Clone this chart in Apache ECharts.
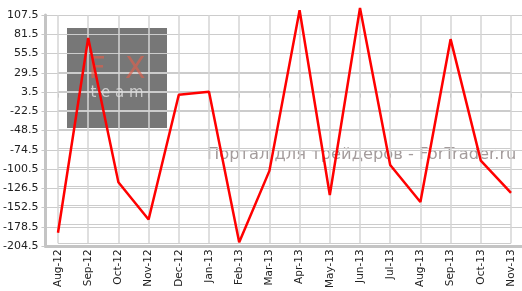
<!DOCTYPE html>
<html><head><meta charset="utf-8">
<script src="https://cdn.jsdelivr.net/npm/echarts@6/dist/echarts.min.js"></script>
<style>html,body{margin:0;padding:0;background:#fff}#c{width:522px;height:291px}</style>
</head><body><div id="c"></div>
<script>
var categories = ['Aug-12','Sep-12','Oct-12','Nov-12','Dec-12','Jan-13','Feb-13','Mar-13','Apr-13','May-13','Jun-13','Jul-13','Aug-13','Sep-13','Oct-13','Nov-13'];
var values = [-190, 76, -121, -172, -1.5, 2.5, -203, -105.5, 114, -138.5, 117, -97.5, -148, 74.5, -91.5, -135.5];
var tickLabels = ['-204.5','-178.5','-152.5','-126.5','-100.5','-74.5','-48.5','-22.5','3.5','29.5','55.5','81.5','107.5'];
var yMin = -204.5, yMax = 107.5;

var chart = echarts.init(document.getElementById('c'), null, {renderer:'canvas'});
var font = 'DejaVu Sans';
chart.setOption({
  animation: false,
  backgroundColor: '#ffffff',
  grid: [
    {left: 58, right: 11, top: 15, bottom: 45},
    {left: 43, right: 0, top: 15, bottom: 45}
  ],
  xAxis: [
    {type:'category', gridIndex:0, z:3, data: categories, boundaryGap:false,
     axisLine:{show:false},
     axisTick:{show:true, length:4, lineStyle:{color:'#c8c8c8'}},
     axisLabel:{rotate:90, fontFamily:font, fontSize:10.5, color:'#222', margin:6, interval:0},
     splitLine:{show:true, lineStyle:{color:'#d4d4d4', width:1.5}}},
    {type:'category', gridIndex:1, z:3, data:[''], boundaryGap:false,
     axisLine:{show:true, lineStyle:{color:'#c4c4c4', width:3}},
     axisTick:{show:false}, axisLabel:{show:false}, splitLine:{show:false}}
  ],
  yAxis: [
    {type:'value', gridIndex:0, min:yMin, max:yMax, show:false, splitLine:{show:false}},
    {type:'category', gridIndex:1, z:3, data: tickLabels, boundaryGap:false,
     axisLine:{show:true, lineStyle:{color:'#c4c4c4', width:3}},
     axisTick:{show:true, length:4, lineStyle:{color:'#c8c8c8'}},
     axisLabel:{fontFamily:font, fontSize:11, color:'#222', margin:7, interval:0},
     splitLine:{show:true, lineStyle:{color:'#cccccc', width:1}}},
    {type:'category', gridIndex:0, z:3, data: tickLabels, boundaryGap:false,
     axisLine:{show:false}, axisTick:{show:false}, axisLabel:{show:false},
     splitLine:{show:true, lineStyle:{color:'#cccccc', width:1}}}
  ],
  graphic: {
    z: 2,
    elements: [
      {type:'text', x:207, y:147, style:{text:'Портал для трейдеров - ForTrader.ru', font:'16.3px "DejaVu Sans"', fill:'#a49c9c'}}
    ]
  },
  series: [
    {type:'line', xAxisIndex:1, yAxisIndex:1, data: [], z:1, silent:true,
     markArea:{silent:true, itemStyle:{color:'#777777'},
       data:[[{x:67, y:28}, {x:167, y:128}]]},
     markPoint:{silent:true, symbol:'rect', symbolSize:0,
       data:[
         {x:117, y:70, label:{show:true, position:'inside', formatter:'F  X', fontFamily:font, fontSize:30, color:'rgba(225,95,75,0.65)'}},
         {x:117, y:93, label:{show:true, position:'inside', formatter:'t e a m', fontFamily:font, fontSize:15, color:'rgba(220,220,220,0.85)'}}
       ]}},
    {type:'line', xAxisIndex:0, yAxisIndex:0, data: values, clip:false, z:10,
     symbol:'none', lineStyle:{color:'#ff0000', width:2.5}}
  ]
});
</script></body></html>
